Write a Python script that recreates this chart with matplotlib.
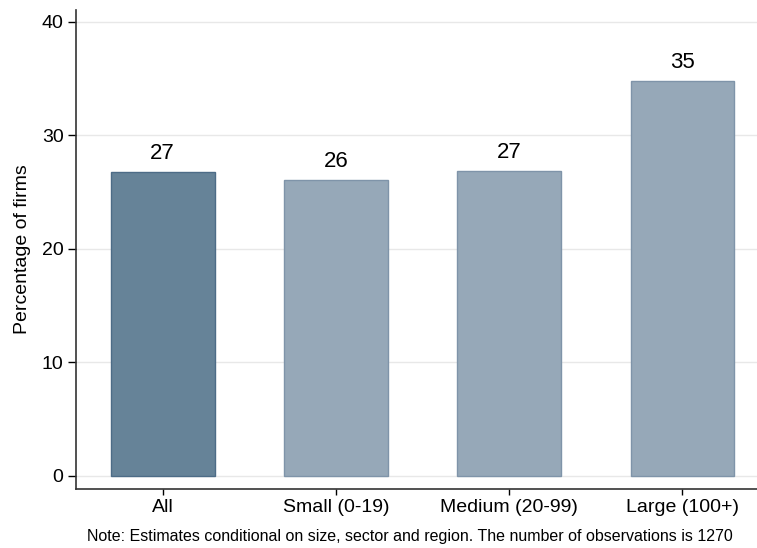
import numpy as np
import matplotlib.pyplot as plt

# data
categories = ['All', 'Small (0-19)', 'Medium (20-99)', 'Large (100+)']
shares = [26.8, 26.1, 26.9, 34.8]
labels = ['27', '26', '27', '35']
y_ticks = [0, 10, 20, 30, 40]
note = 'Note: Estimates conditional on size, sector and region. The number of observations is 1270'

plt.rcParams['font.family'] = ['Liberation Sans', 'DejaVu Sans']

fig = plt.figure(figsize=(7.57, 5.48), dpi=100)
# axes placed in pixels: left spine x=76, bottom spine y=489, top y=10, right edge 757
ax = fig.add_axes([76 / 757, 1 - 489 / 548, (757 - 76) / 757, (489 - 10) / 548])

x = np.arange(len(categories))
face = ['#668398'] + ['#96a8b8'] * 3
edge = ['#4d6c87'] + ['#7f94a9'] * 3
bars = ax.bar(x, shares, width=0.6, color=face, edgecolor=edge, linewidth=1, zorder=2)

for b, lab in zip(bars, labels):
    ax.text(b.get_x() + b.get_width() / 2, b.get_height() + 1.15, lab,
            ha='center', va='baseline', fontsize=16, color='black')

ax.set_xlim(-0.5, 3.43)
ax.set_ylim(-1.15, 41.05)
ax.set_yticks(y_ticks)
ax.set_xticks(x)
ax.set_xticklabels(categories)
ax.tick_params(axis='both', labelsize=14, width=1, color='black')
ax.tick_params(axis='y', length=6, pad=3)
ax.tick_params(axis='x', length=4.5, pad=3)
ax.grid(axis='y', color='#e8e8e8', linewidth=1, zorder=0)
ax.set_axisbelow(True)
for s in ['top', 'right']:
    ax.spines[s].set_visible(False)
for s in ['left', 'bottom']:
    ax.spines[s].set_color('#333333')
    ax.spines[s].set_linewidth(1.2)

ax.set_ylabel('Percentage of firms', fontsize=14, labelpad=8)

fig.text(410 / 757, 1 - 537 / 548, note, ha='center', va='center', fontsize=11.5)

fig.savefig('out.png', dpi=100)
